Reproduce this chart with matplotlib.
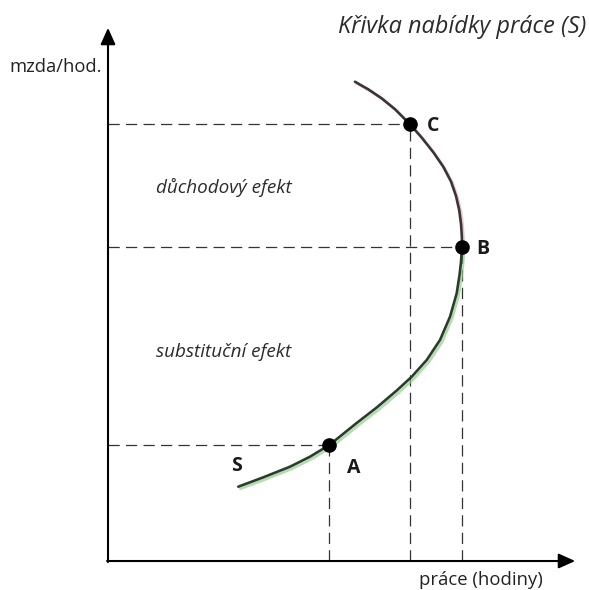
import matplotlib
matplotlib.use("Agg")
import matplotlib.pyplot as plt
import matplotlib.patheffects as pe

# Křivka nabídky práce (práce, mzda), shora dolů
krivka_x = [5.255, 5.538, 5.823, 6.106, 6.426, 6.674, 6.921, 7.134, 7.298, 7.404,
            7.472, 7.511, 7.528, 7.532, 7.511, 7.479, 7.419, 7.277, 7.064, 6.781,
            6.462, 6.143, 5.717, 5.291, 5.006, 4.709, 4.298, 3.872, 3.304, 2.772]
krivka_y = [9.043, 8.900, 8.730, 8.525, 8.240, 7.989, 7.713, 7.438, 7.160, 6.887,
            6.623, 6.358, 6.132, 5.919, 5.642, 5.396, 5.051, 4.609, 4.170, 3.792,
            3.477, 3.217, 2.896, 2.604, 2.400, 2.189, 1.968, 1.779, 1.579, 1.402]
zlom = 13  # index bodu B, kde se křivka zatáčí

body_nazvy = ["A", "B", "C"]
body_x = [4.709, 7.532, 6.426]
body_y = [2.189, 5.919, 8.240]

texty_efektu = ["důchodový efekt", "substituční efekt"]
texty_y = [7.04, 3.95]

plt.rcParams["font.family"] = ["Open Sans", "DejaVu Sans"]

fig = plt.figure(figsize=(5.89, 5.90), dpi=100)
ax = fig.add_axes([0, 0, 1, 1])
ax.set_xlim(-2.298, 10.234)
ax.set_ylim(-0.547, 10.585)
ax.axis("off")

# Osy se šipkami
sipka = dict(arrowstyle="-|>,head_length=1.0,head_width=0.45",
             color="black", lw=1.5, shrinkA=0, shrinkB=0)
ax.annotate("", xy=(0, 10.06), xytext=(0, -0.02), arrowprops=sipka)
ax.annotate("", xy=(9.94, 0), xytext=(-0.02, 0), arrowprops=sipka)

# Pomocné čárkované čáry
for bx, by in zip(body_x, body_y):
    ax.plot([0, bx], [by, by], color="#333333", lw=0.9, ls=(0, (9, 5)), zorder=2)
    ax.plot([bx, bx], [0, by], color="#333333", lw=0.9, ls=(0, (9, 5)), zorder=2)

# Křivka - horní část (důchodový efekt) a dolní část (substituční efekt)
ax.plot(krivka_x[:zlom + 1], krivka_y[:zlom + 1], color="#3b3636", lw=1.9,
        solid_capstyle="round", solid_joinstyle="round", zorder=3,
        path_effects=[pe.SimpleLineShadow(offset=(1.2, -1.2), shadow_color="#e7a9ad", alpha=0.7),
                      pe.Normal()])
ax.plot(krivka_x[zlom:], krivka_y[zlom:], color="#2f3a2e", lw=1.9,
        solid_capstyle="round", solid_joinstyle="round", zorder=3,
        path_effects=[pe.SimpleLineShadow(offset=(1.5, -1.5), shadow_color="#8fd08a", alpha=0.7),
                      pe.Normal()])

# Body A, B, C
ax.plot(body_x, body_y, "o", color="black", ms=9.5, zorder=4)
popisky_dx = [0.53, 0.45, 0.5]
popisky_dy = [-0.43, -0.04, -0.04]
for nazev, bx, by, dx, dy in zip(body_nazvy, body_x, body_y, popisky_dx, popisky_dy):
    ax.text(bx + dx, by + dy, nazev, fontsize=14, fontweight="bold",
            color="#1a1a1a", ha="center", va="center")
ax.text(krivka_x[-1] - 0.03, 1.8, "S", fontsize=14, fontweight="bold",
        color="#1a1a1a", ha="center", va="center")

# Popisky efektů
for txt, ty in zip(texty_efektu, texty_y):
    ax.text(1.03, ty, txt, fontsize=13.6, style="italic", color="#2b2b2b",
            ha="left", va="center")

# Popisky os a nadpis
ax.text(-0.13, 9.32, "mzda/hod.", fontsize=13.2, color="#222222", ha="right", va="center")
ax.text(9.25, -0.36, "práce (hodiny)", fontsize=13.3, color="#222222", ha="right", va="center")
ax.text(10.17, 10.08, "Křivka nabídky práce (S)", fontsize=16.9, style="italic",
        color="#2b2b2b", ha="right", va="center")

fig.savefig("out.png", dpi=100)
